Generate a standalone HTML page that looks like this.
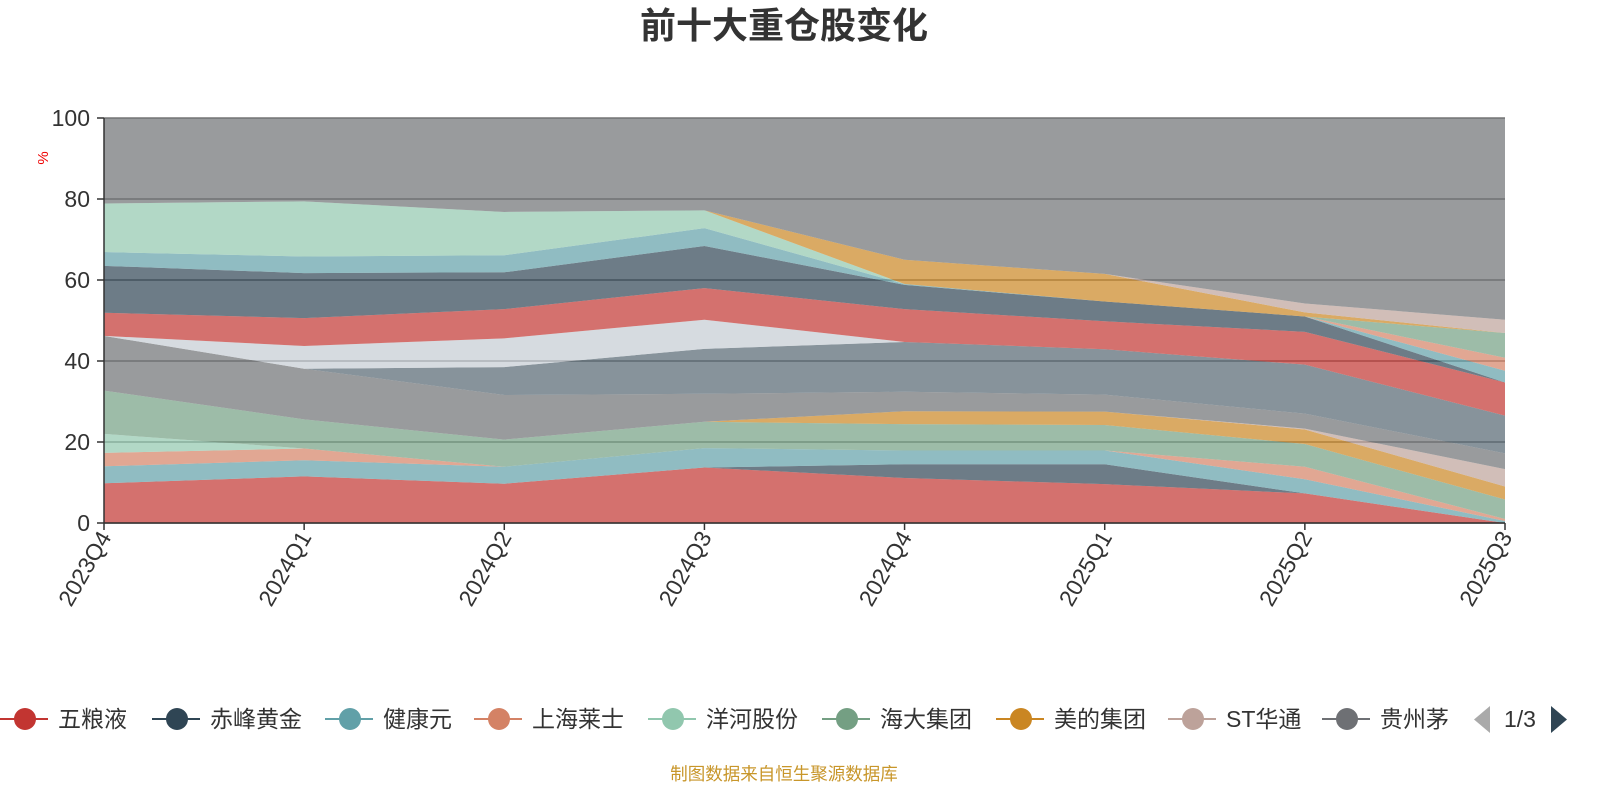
<!DOCTYPE html>
<html><head><meta charset="utf-8"><style>
body{margin:0;background:#fff;width:1600px;height:800px;overflow:hidden;font-family:"Liberation Sans","Noto Sans CJK SC",sans-serif;}
</style></head><body>
<svg id="chart" width="1600" height="800" xmlns="http://www.w3.org/2000/svg" font-family="Liberation Sans, Noto Sans CJK SC, sans-serif">
<text x="784" y="38" text-anchor="middle" font-size="36" font-weight="bold" fill="#333">前十大重仓股变化</text>
<text transform="translate(48,158) rotate(-90)" text-anchor="middle" font-size="15" fill="#e00">%</text>
<g id="grid"></g><g id="areas"></g><g id="axes"></g><g id="legend"></g>
<text x="784" y="780" text-anchor="middle" font-size="17.5" fill="#c8962a">制图数据来自恒生聚源数据库</text>
</svg>
<script>
const categories=['2023Q4','2024Q1','2024Q2','2024Q3','2024Q4','2025Q1','2025Q2','2025Q3'];
const seriesNames=['五粮液','赤峰黄金','健康元','上海莱士','洋河股份','海大集团','美的集团','ST华通','贵州茅台','泸州老窖','山西汾酒','紫金矿业','山东黄金','伊利股份','中国平安','招商银行','宁德时代','长江电力','牧原股份','其他'];
const s0=[9.8,11.5,9.7,13.7,11.1,9.6,7.3,0];
const s1=[0,0,0,0,3.4,4.9,0,0];
const s2=[4.2,4.0,4.2,4.8,3.4,3.4,3.5,0.5];
const s3=[3.3,2.9,0,0,0,0,3.1,0.5];
const s4=[4.7,0,0,0,0,0,0,0];
const s5=[10.7,7.2,6.7,6.5,6.5,6.3,5.6,4.8];
const s6=[0,0,0,0,3.2,3.3,3.6,3.2];
const s7=[0,0,0,0,0,0,0.2,4.3];
const s8=[13.5,12.5,11.0,6.9,4.8,4.2,3.7,3.9];
const s9=[0,0,6.9,11.1,12.3,11.2,12.1,9.3];
const s10=[0,5.6,7.1,7.2,0,0,0,0];
const s11=[5.7,6.9,7.2,7.8,8.1,6.9,8.1,8.2];
const s12=[11.6,11.1,9.1,10.4,6.0,4.9,3.8,0];
const s13=[3.4,4.1,4.2,4.4,0.2,0,0,2.9];
const s14=[0,0,0,0,0,0,0,3.2];
const s15=[12.0,13.6,10.7,4.4,0,0,0,0];
const s16=[0,0,0,0,0,0,0,6.1];
const s17=[0,0,0,0,6.0,6.8,1.0,0];
const s18=[0,0,0,0,0,0,2.2,3.3];
const s19=[21.1,20.6,23.2,22.8,35.0,38.5,45.8,49.8];
const yTicks=[0,20,40,60,80,100];
const allSeries=[s0,s1,s2,s3,s4,s5,s6,s7,s8,s9,s10,s11,s12,s13,s14,s15,s16,s17,s18,s19];
const palette=['#c23531','#2f4554','#61a0a8','#d48265','#91c7ae','#749f83','#ca8622','#bda29a','#6e7074','#546570','#c4ccd3'];
const NS='http://www.w3.org/2000/svg';
const X0=104,X1=1505,Y0=523,Y1=118;
const xs=i=>X0+(X1-X0)*i/(categories.length-1);
const ys=v=>Y0-(Y0-Y1)*v/100;
function mk(tag,attrs,parent){const e=document.createElementNS(NS,tag);for(const k in attrs)e.setAttribute(k,attrs[k]);parent.appendChild(e);return e;}
const grid=document.getElementById('grid'),areas=document.getElementById('areas'),axes=document.getElementById('axes'),legend=document.getElementById('legend');
yTicks.forEach(t=>{
 const l=mk('line',{x1:X0,x2:X1,y1:ys(t),y2:ys(t),stroke:'#777','stroke-width':1.5},grid);
 
 
 const tk=mk('line',{x1:X0-7,x2:X0,y1:ys(t),y2:ys(t),stroke:'#333','stroke-width':1.5},axes);
 
 
 const tx=mk('text',{x:X0-14,y:ys(t)+8,'text-anchor':'end','font-size':23,fill:'#333'},axes);
 tx.textContent=t;
 
 
});
let cum=categories.map(()=>0);
allSeries.forEach((s,si)=>{
 const low=cum.slice();const high=cum.map((c,i)=>c+s[i]);
 let d='M'+high.map((v,i)=>xs(i)+','+ys(v)).join('L');
 for(let i=low.length-1;i>=0;i--)d+='L'+xs(i)+','+ys(low[i]);
 d+='Z';
 const p=mk('path',{d:d,fill:palette[si%palette.length],'fill-opacity':0.7},areas);
 
 
 cum=high;
});
mk('line',{x1:X0,x2:X0,y1:Y1,y2:Y0,stroke:'#333','stroke-width':1.5},axes);
mk('line',{x1:X0,x2:X1,y1:Y0,y2:Y0,stroke:'#333','stroke-width':1.5},axes);
categories.forEach((c,i)=>{
 const tk=mk('line',{x1:xs(i),x2:xs(i),y1:Y0,y2:Y0+7,stroke:'#333','stroke-width':1.5},axes);
 
 
 const tx=mk('text',{transform:'translate('+(xs(i)+8)+','+(Y0+14)+') rotate(-60)','text-anchor':'end','font-size':23,fill:'#333'},axes);
 tx.textContent=c;
 
 
});
const legX=[0,152,325,474,648,822,996,1168,1322];
for(let i=0;i<9;i++){
 const g=mk('g',{},legend);
 
 
 const col=palette[i];
 mk('line',{x1:legX[i],x2:legX[i]+48,y1:719,y2:719,stroke:col,'stroke-width':2},g);
 mk('circle',{cx:legX[i]+25,cy:719,r:11,fill:col},g);
 const t=mk('text',{x:legX[i]+58,y:727,'font-size':23,fill:'#333'},g);
 t.textContent=seriesNames[i].slice(0,i===8?3:10);
}
const pl=mk('path',{d:'M1490,706 L1490,733 L1474,719.5 Z',fill:'#aaa'},legend);


const pt=mk('text',{x:1520,y:727,'text-anchor':'middle','font-size':23,fill:'#333'},legend);
pt.textContent='1/3';


const pr=mk('path',{d:'M1551,706 L1551,733 L1567,719.5 Z',fill:'#2f4554'},legend);


</script>
</body></html>
